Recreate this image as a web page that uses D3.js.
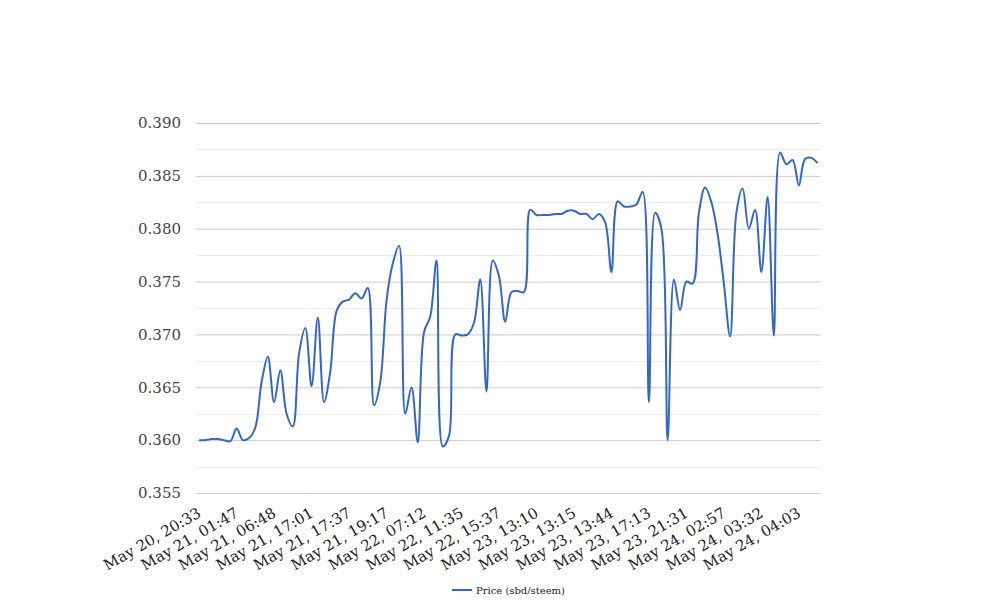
<!DOCTYPE html>
<html>
<head>
<meta charset="utf-8">
<script src="https://cdn.jsdelivr.net/npm/d3@7/dist/d3.min.js"></script>
<style>
  html, body { margin: 0; padding: 0; background: #fff; }
  svg { display: block; }
</style>
</head>
<body>
<svg id="chart" width="1008" height="616"></svg>
<script>
// ---- data ----
const seriesName = "Price (sbd/steem)";
const prices = [
  0.3600, 0.3600, 0.3601, 0.3601, 0.3600, 0.3599, 0.3611, 0.3600, 0.3602, 0.3612,
  0.3655, 0.3679, 0.3636, 0.3666, 0.3625, 0.3613, 0.3682, 0.3706, 0.3651, 0.3716,
  0.3636, 0.3665, 0.3722, 0.3731, 0.3733, 0.3739, 0.3734, 0.3744, 0.3633, 0.3655,
  0.3732, 0.3767, 0.3784, 0.3625, 0.3650, 0.3598, 0.3702, 0.3717, 0.3770, 0.3594,
  0.3604, 0.3700, 0.3699, 0.3700, 0.3711, 0.3752, 0.3646, 0.3770, 0.3755, 0.3712,
  0.3740, 0.3741, 0.3740, 0.3818, 0.3813, 0.3813, 0.3813, 0.3814, 0.3814, 0.3817,
  0.3817, 0.3814, 0.3814, 0.3809, 0.3814, 0.3806, 0.3759, 0.3826, 0.3821, 0.3821,
  0.3823, 0.3835, 0.3636, 0.3815, 0.3800, 0.3600, 0.3752, 0.3723, 0.3750, 0.3748,
  0.3815, 0.3839, 0.3825, 0.3795, 0.3748, 0.3698, 0.3815, 0.3838, 0.3800, 0.3818,
  0.3759, 0.3830, 0.3699, 0.3872, 0.3861, 0.3865, 0.3841, 0.3866, 0.3867, 0.3862
];
const tickLabels = [
  "May 20, 20:33", "May 21, 01:47", "May 21, 06:48", "May 21, 17:01",
  "May 21, 17:37", "May 21, 19:17", "May 22, 07:12", "May 22, 11:35",
  "May 22, 15:37", "May 23, 13:10", "May 23, 13:15", "May 23, 13:44",
  "May 23, 17:13", "May 23, 21:31", "May 24, 02:57", "May 24, 03:32",
  "May 24, 04:03"
];
const labelEvery = 6;
const yTicks = [0.355, 0.360, 0.365, 0.370, 0.375, 0.380, 0.385, 0.390];
const yMinorTicks = [0.3575, 0.3625, 0.3675, 0.3725, 0.3775, 0.3825, 0.3875];

// ---- layout ----
const svg = d3.select("#chart");
const plotLeft = 196, plotRight = 820.7, plotTop = 123, plotBottom = 493;

const x = d3.scaleBand().domain(d3.range(prices.length)).range([plotLeft, plotRight]);
const xc = i => x(i) + x.bandwidth() / 2;
const y = d3.scaleLinear().domain([0.355, 0.390]).range([plotBottom, plotTop]);

// minor gridlines
svg.append("g").selectAll("line").data(yMinorTicks).join("line")
  .attr("x1", plotLeft).attr("x2", plotRight)
  .attr("y1", d => Math.round(y(d)) + 0.5).attr("y2", d => Math.round(y(d)) + 0.5)
  .attr("stroke", "#ebebeb").attr("stroke-width", 1);

// major gridlines via axis
const yAxis = d3.axisLeft(y).tickValues(yTicks).tickFormat(d3.format(".3f"))
  .tickSize(-(plotRight - plotLeft)).tickPadding(15);
const gy = svg.append("g").attr("transform", `translate(${plotLeft},0)`).call(yAxis);
gy.select(".domain").remove();
gy.selectAll(".tick line").attr("stroke", "#cccccc");
gy.selectAll(".tick text")
  .attr("font-family", "DejaVu Serif")
  .attr("font-size", 15)
  .attr("fill", "#444");

// x axis labels
const labelIdx = tickLabels.map((_, k) => k * labelEvery);
const xAxis = d3.axisBottom(x).tickValues(labelIdx)
  .tickFormat(d => tickLabels[labelIdx.indexOf(d)]).tickSize(0);
const gx = svg.append("g").attr("transform", `translate(0,${plotBottom})`).call(xAxis);
gx.select(".domain").remove();
gx.selectAll(".tick text")
  .attr("font-family", "DejaVu Serif")
  .attr("font-size", 15)
  .attr("fill", "#222")
  .attr("text-anchor", "end")
  .attr("dy", null)
  .attr("y", null)
  .attr("transform", "translate(3,23) rotate(-30)");

// line
const line = d3.line()
  .x((d, i) => xc(i))
  .y(d => y(d))
  .curve(d3.curveCatmullRom.alpha(0.5));
svg.append("path").datum(prices)
  .attr("d", line)
  .attr("fill", "none")
  .attr("stroke", "#3366cc")
  .attr("stroke-width", 2);

// legend
const lg = svg.append("g").attr("transform", "translate(452,590)");
lg.append("line").attr("x1", 0).attr("x2", 20).attr("y1", 0).attr("y2", 0)
  .attr("stroke", "#3366cc").attr("stroke-width", 2);
lg.append("text").attr("x", 24).attr("y", 0).attr("dy", "0.35em")
  .attr("font-family", "DejaVu Serif").attr("font-size", 10).attr("fill", "#222")
  .text(seriesName);
</script>
</body>
</html>
